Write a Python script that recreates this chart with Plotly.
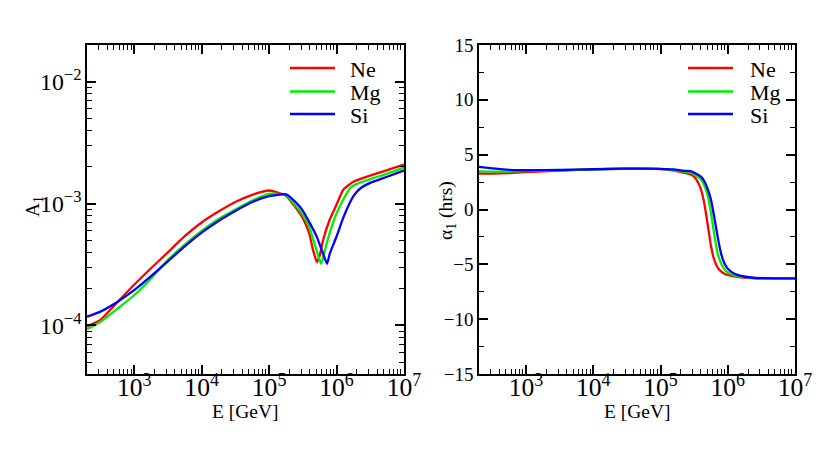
import plotly.graph_objects as go

# ---------------- Left panel: A1 vs E ----------------
ne_E = [2.0e2, 3.16e2, 5.62e2, 1.0e3, 1.78e3, 3.16e3, 5.62e3, 1.0e4, 1.78e4, 3.16e4, 5.62e4,
        1.0e5, 1.78e5, 3.16e5, 3.98e5, 4.47e5, 5.13e5, 5.62e5, 6.31e5, 7.94e5, 1.0e6, 1.26e6,
        1.78e6, 3.16e6, 5.62e6, 1.0e7]
ne_A = [9.8e-5, 1.11e-4, 1.55e-4, 2.16e-4, 2.95e-4, 3.98e-4, 5.4e-4, 7.0e-4, 8.6e-4, 1.03e-3, 1.18e-3,
        1.28e-3, 1.16e-3, 7.6e-4, 5.56e-4, 4.17e-4, 3.31e-4, 3.72e-4, 5.0e-4, 7.4e-4, 9.8e-4, 1.30e-3,
        1.51e-3, 1.70e-3, 1.88e-3, 2.09e-3]

mg_E = [2.0e2, 3.16e2, 5.62e2, 1.0e3, 1.78e3, 3.16e3, 5.62e3, 1.0e4, 1.78e4, 3.16e4, 5.62e4,
        1.0e5, 1.78e5, 3.16e5, 3.98e5, 5.01e5, 5.89e5, 6.31e5, 7.08e5, 7.94e5, 1.0e6, 1.26e6,
        1.58e6, 1.78e6, 3.16e6, 5.62e6, 1.0e7]
mg_A = [9.3e-5, 1.07e-4, 1.37e-4, 1.77e-4, 2.43e-4, 3.45e-4, 4.6e-4, 5.96e-4, 7.48e-4, 8.95e-4, 1.06e-3,
        1.20e-3, 1.17e-3, 8.1e-4, 6.35e-4, 4.19e-4, 3.21e-4, 3.6e-4, 4.6e-4, 5.78e-4, 8.3e-4, 1.08e-3,
        1.33e-3, 1.41e-3, 1.59e-3, 1.76e-3, 1.98e-3]

si_E = [2.0e2, 3.16e2, 5.62e2, 1.0e3, 1.78e3, 3.16e3, 5.62e3, 1.0e4, 1.78e4, 3.16e4, 5.62e4,
        1.0e5, 1.78e5, 2.51e5, 3.16e5, 3.98e5, 5.01e5, 6.31e5, 7.24e5, 7.94e5, 1.0e6, 1.26e6,
        1.58e6, 1.78e6, 2.24e6, 3.16e6, 5.62e6, 1.0e7]
si_A = [1.18e-4, 1.30e-4, 1.56e-4, 1.95e-4, 2.54e-4, 3.36e-4, 4.45e-4, 5.77e-4, 7.2e-4, 8.7e-4, 1.03e-3,
        1.15e-3, 1.19e-3, 1.02e-3, 8.77e-4, 6.98e-4, 5.46e-4, 3.89e-4, 3.21e-4, 3.89e-4, 5.37e-4, 7.67e-4,
        1.02e-3, 1.15e-3, 1.33e-3, 1.48e-3, 1.66e-3, 1.87e-3]

# ---------------- Right panel: alpha1 (hrs) vs E ----------------
phase_E = [2.0e2, 3.16e2, 5.62e2, 1.0e3, 3.16e3, 1.0e4, 3.16e4, 1.0e5, 1.58e5, 2.24e5, 2.82e5,
           3.16e5, 3.55e5, 3.98e5, 4.47e5, 5.01e5, 5.62e5, 6.31e5, 7.08e5, 7.94e5, 8.91e5,
           1.0e6, 1.26e6, 1.58e6, 2.24e6, 3.16e6, 1.0e7]
ne_alpha = [3.27, 3.28, 3.33, 3.40, 3.55, 3.66, 3.72, 3.68, 3.55, 3.35, 3.2,
            3.0, 2.55, 1.85, 0.6, -1.3, -3.3, -4.6, -5.3, -5.65, -5.85,
            -5.97, -6.1, -6.18, -6.25, -6.28, -6.28]
mg_alpha = [3.48, 3.45, 3.45, 3.50, 3.58, 3.66, 3.72, 3.70, 3.60, 3.45, 3.35,
            3.2, 3.0, 2.75, 2.2, 1.3, -0.3, -2.3, -4.0, -4.9, -5.45,
            -5.75, -6.0, -6.13, -6.23, -6.27, -6.28]
si_alpha = [3.88, 3.75, 3.62, 3.58, 3.60, 3.67, 3.73, 3.71, 3.65, 3.52, 3.5,
            3.35, 3.2, 3.0, 2.6, 1.9, 0.9, -0.7, -2.5, -4.0, -4.9,
            -5.4, -5.85, -6.05, -6.2, -6.26, -6.28]

names = ["Ne", "Mg", "Si"]
colors = ["#ff0000", "#00ee00", "#0000ff"]

FONT = "Liberation Serif, Times New Roman, serif"
W, H = 830, 462
OX, OY = 8, 8  # page body margin offset


def px(x):
    return (x - OX) / W


def py(y):
    return 1 - (y - OY) / H


fig = go.Figure()
for E, A, nm, c in zip([ne_E, mg_E, si_E], [ne_A, mg_A, si_A], names, colors):
    fig.add_trace(go.Scatter(x=E, y=A, mode="lines", name=nm,
                             line=dict(color=c, width=2.3, shape="spline", smoothing=0.5),
                             xaxis="x", yaxis="y", showlegend=False))
for al, nm, c in zip([ne_alpha, mg_alpha, si_alpha], names, colors):
    fig.add_trace(go.Scatter(x=phase_E, y=al, mode="lines", name=nm,
                             line=dict(color=c, width=2.3, shape="spline", smoothing=0.5),
                             xaxis="x2", yaxis="y2", showlegend=False))

common_axis = dict(showline=True, linecolor="black", linewidth=1.5, mirror="allticks", ticks="inside",
                   tickcolor="black", tickwidth=1.5, ticklen=9, showgrid=False, zeroline=False,
                   automargin=False, tickfont=dict(family=FONT, size=19, color="black"))

log_x = dict(common_axis, type="log", range=[2.301, 7.0], dtick=1, exponentformat="power",
             tickfont=dict(family=FONT, size=20.5, color="black"), ticklabelstandoff=-9,
             minor=dict(ticks="inside", ticklen=5, tickcolor="black", tickwidth=1.2, dtick="D1", showgrid=False))

fig.update_layout(
    template="none",
    width=W, height=H,
    margin=dict(l=0, r=0, t=0, b=0),
    paper_bgcolor="white", plot_bgcolor="white",
    showlegend=False,
    xaxis=dict(log_x, domain=[px(87), px(404)], anchor="y"),
    yaxis=dict(common_axis, type="log", range=[-4.398, -1.699], dtick=1, exponentformat="power",
               domain=[py(374), py(45)], anchor="x",
               minor=dict(ticks="inside", ticklen=5, tickcolor="black", tickwidth=1.2, dtick="D1", showgrid=False)),
    xaxis2=dict(log_x, domain=[px(479), px(795)], anchor="y2"),
    yaxis2=dict(common_axis, range=[-15, 15], dtick=5, tick0=0, domain=[py(374), py(45)], anchor="x2",
                minor=dict(ticks="inside", ticklen=5, tickcolor="black", tickwidth=1.2, dtick=2.5, showgrid=False)),
)

# axis titles
title_font = dict(family=FONT, size=19.5, color="black")
for xr in ["x domain", "x2 domain"]:
    fig.add_annotation(xref=xr, yref="paper", x=0.5, y=py(411), text="E [GeV]", showarrow=False,
                       xanchor="center", yanchor="middle", font=title_font)
fig.add_annotation(xref="paper", yref="paper", x=px(34), y=py(207), text="A<sub>1</sub>", showarrow=False,
                   textangle=-90, xanchor="center", yanchor="middle", font=title_font)
fig.add_annotation(xref="paper", yref="paper", x=px(447), y=py(211), text="α<sub>1</sub> (hrs)", showarrow=False,
                   textangle=-90, xanchor="center", yanchor="middle", font=title_font)

# legends (one per panel), drawn as key lines + labels in paper space
legend_rows = [68, 91.5, 114]
for x0, x1, xt in [(290, 335, 348), (688, 733, 748)]:
    for nm, c, yy in zip(names, colors, legend_rows):
        fig.add_shape(type="line", xref="paper", yref="paper",
                      x0=px(x0), x1=px(x1), y0=py(yy), y1=py(yy),
                      line=dict(color=c, width=2.3))
        fig.add_annotation(xref="paper", yref="paper", x=px(xt), y=py(yy + 1),
                           text=nm, showarrow=False, xanchor="left", yanchor="middle",
                           font=dict(family=FONT, size=22, color="black"))

fig.write_html("out.html")
